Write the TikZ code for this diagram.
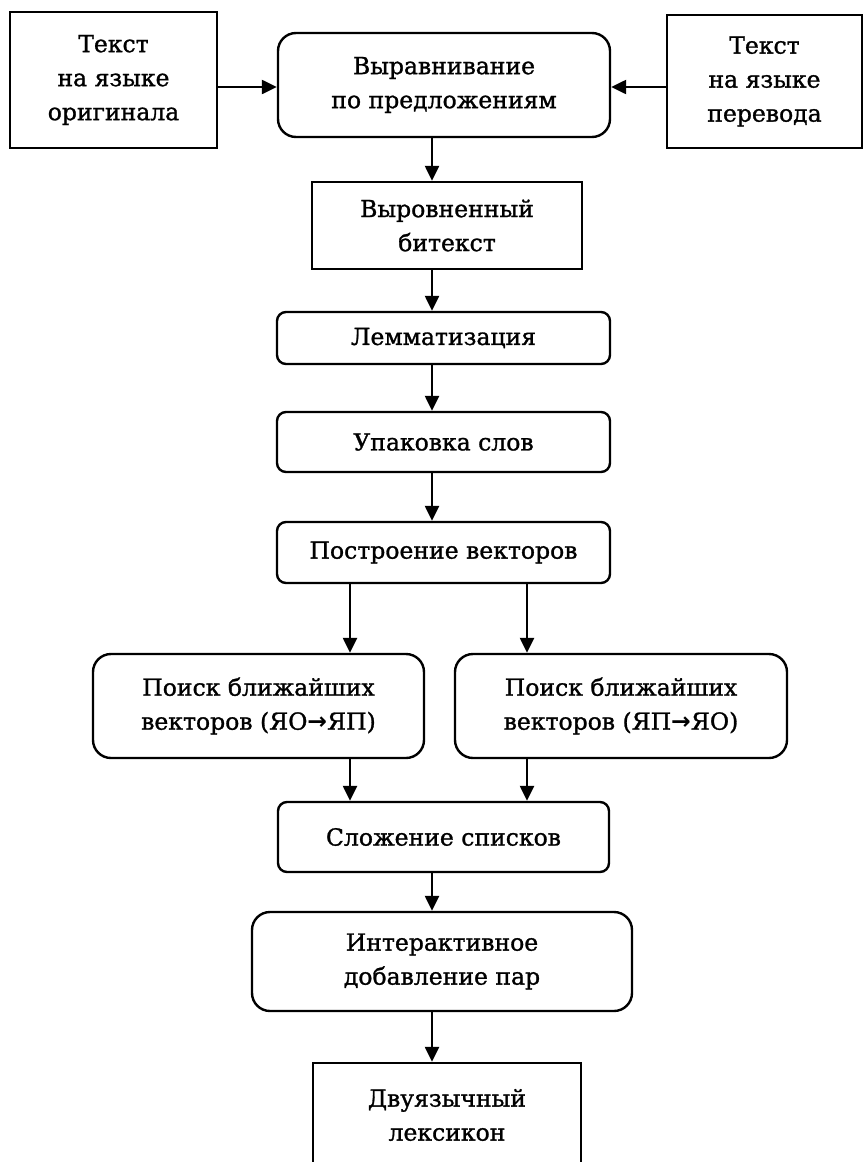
\documentclass[tikz,border=0pt]{standalone}
\usepackage{fontspec}
\setmainfont[FakeBold=1.2]{DejaVu Serif}
\newfontfamily\arrowfont{DejaVu Sans}
\usetikzlibrary{arrows.meta}
\newcommand{\toarr}{{\arrowfont\bfseries →}}

\begin{document}
\begin{tikzpicture}[x=1pt,y=-1pt,line width=2.4pt,
  font=\fontsize{23.5}{34}\selectfont,
  sqbox/.style={draw,align=center,inner sep=0pt},
  rbox/.style={sqbox,rounded corners=9pt},
  bigrbox/.style={sqbox,rounded corners=18pt},
  arr/.style={-{Triangle[length=15pt,width=14pt]}}]
\clip (0,0) rectangle (865,1162);
\coordinate (spine) at (432,0);
\coordinate (colL) at (350,0);
\coordinate (colR) at (527,0);
\node[sqbox,minimum width=207pt,minimum height=136pt] (src) at (113.5,80) {Текст\\на языке\\оригинала};
\node[bigrbox,minimum width=332pt,minimum height=104pt] (align) at (444,85) {Выравнивание\\по предложениям};
\node[sqbox,minimum width=195pt,minimum height=133pt] (tgt) at (764.5,81.5) {Текст\\на языке\\перевода};
\node[sqbox,minimum width=270pt,minimum height=87pt] (bitext) at (447,225.5) {Выровненный\\битекст};
\node[rbox,minimum width=333pt,minimum height=52pt] (lemma) at (443.5,338) {Лемматизация};
\node[rbox,minimum width=333pt,minimum height=60pt] (pack) at (443.5,442) {Упаковка слов};
\node[rbox,minimum width=333pt,minimum height=61pt] (vec) at (443.5,552.5) {Построение векторов};
\node[bigrbox,minimum width=331pt,minimum height=104pt] (nnL) at (258.5,706) {Поиск ближайших\\векторов (ЯО\toarr ЯП)};
\node[bigrbox,minimum width=332pt,minimum height=104pt] (nnR) at (621,706) {Поиск ближайших\\векторов (ЯП\toarr ЯО)};
\node[rbox,minimum width=331pt,minimum height=70pt] (merge) at (443.5,837) {Сложение списков};
\node[bigrbox,minimum width=380pt,minimum height=99pt] (inter) at (442,961.5) {Интерактивное\\добавление пар};
\node[sqbox,minimum width=268pt,minimum height=104pt] (lex) at (447,1115) {Двуязычный\\лексикон};
\draw[arr] (src.east |- 0,87) -- (align.west |- 0,87);
\draw[arr] (tgt.west |- 0,87) -- (align.east |- 0,87);
\draw[arr] (align.south -| spine) -- (bitext.north -| spine);
\draw[arr] (bitext.south -| spine) -- (lemma.north -| spine);
\draw[arr] (lemma.south -| spine) -- (pack.north -| spine);
\draw[arr] (pack.south -| spine) -- (vec.north -| spine);
\draw[arr] (vec.south -| colL) -- (nnL.north -| colL);
\draw[arr] (vec.south -| colR) -- (nnR.north -| colR);
\draw[arr] (nnL.south -| colL) -- (merge.north -| colL);
\draw[arr] (nnR.south -| colR) -- (merge.north -| colR);
\draw[arr] (merge.south -| spine) -- (inter.north -| spine);
\draw[arr] (inter.south -| spine) -- (lex.north -| spine);
\end{tikzpicture}
\end{document}
